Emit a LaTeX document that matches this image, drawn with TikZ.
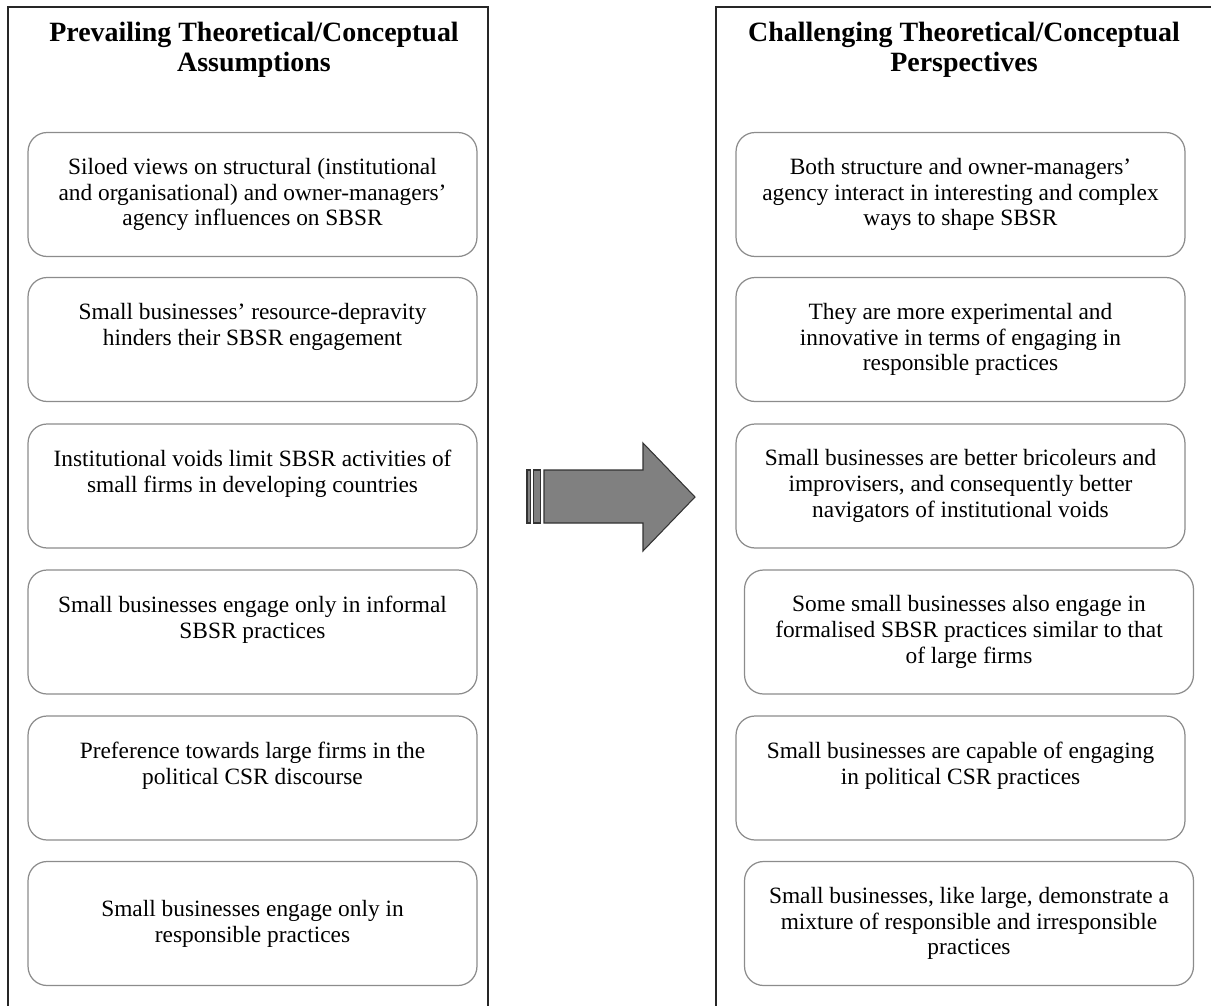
\documentclass[tikz,border=0pt]{standalone}
\usepackage{fontspec}
\setmainfont{Liberation Serif}
\usepackage{tikz}
\usetikzlibrary{positioning}
\tikzset{
  panel/.style={line width=1.1pt, draw=black!85},
  ttl/.style={align=center, font=\bfseries\fontsize{15.9}{17}\selectfont, inner sep=0pt},
  card/.style={rectangle, rounded corners=0.38cm, draw=black!45, line width=0.7pt,
               fill=white, align=center, font=\fontsize{13.3}{14.7}\selectfont,
               minimum width=8.98cm, minimum height=2.48cm, inner sep=0pt},
  lift/.style={text depth=0.6cm},
  shiftarrow/.style={fill=black!50, draw=black!80, line width=0.6pt},
}

\begin{document}
\begin{tikzpicture}[x=0.02cm, y=-0.02cm]
  \useasboundingbox (0,0) rectangle (1211,1005);
  \clip (0,0) rectangle (1211,1005);
  % the two open panels
  \draw[panel] (8,1020) -- (8,7) -- (488,7) -- (488,1020);
  \draw[panel] (716,1020) -- (716,7) -- (1230,7);
  \node[ttl] (tl) at (254,50) {Prevailing Theoretical/Conceptual\\Assumptions};
  \node[ttl] (tr) at (964,50) {Challenging Theoretical/Conceptual\\Perspectives};
  % prevailing assumptions
  \node[card] (l1) at (252.5,194.5) {Siloed views on structural (institutional\\and organisational) and owner-managers'\\agency influences on SBSR};
  \node[card, lift] (l2) at (252.5,339.5) {Small businesses' resource-depravity\\hinders their SBSR engagement};
  \node[card, lift] (l3) at (252.5,486) {Institutional voids limit SBSR activities of\\small firms in developing countries};
  \node[card, lift] (l4) at (252.5,632) {Small businesses engage only in informal\\SBSR practices};
  \node[card, lift] (l5) at (252.5,778) {Preference towards large firms in the\\political CSR discourse};
  \node[card] (l6) at (252.5,923.5) {Small businesses engage only in\\responsible practices};
  % challenging perspectives
  \node[card] (r1) at (960.5,194.5) {Both structure and owner-managers'\\agency interact in interesting and complex\\ways to shape SBSR};
  \node[card] (r2) at (960.5,339.5) {They are more experimental and\\innovative in terms of engaging in\\responsible practices};
  \node[card] (r3) at (960.5,486) {Small businesses are better bricoleurs and\\improvisers, and consequently better\\navigators of institutional voids};
  \node[card] (r4) at (969,632) {Some small businesses also engage in\\formalised SBSR practices similar to that\\of large firms};
  \node[card, lift] (r5) at (960.5,778) {Small businesses are capable of engaging\\in political CSR practices};
  \node[card] (r6) at (969,923.5) {Small businesses, like large, demonstrate a\\mixture of responsible and irresponsible\\practices};
  % striped arrow between the panels
  \draw[shiftarrow] (527,470) rectangle (530.5,523);
  \draw[shiftarrow] (533.5,470) rectangle (540.5,523);
  \draw[shiftarrow] (544,470) -- (643,470) -- (643,443) -- (695,497)
    -- (643,551) -- (643,523) -- (544,523) -- cycle;
\end{tikzpicture}
\end{document}
